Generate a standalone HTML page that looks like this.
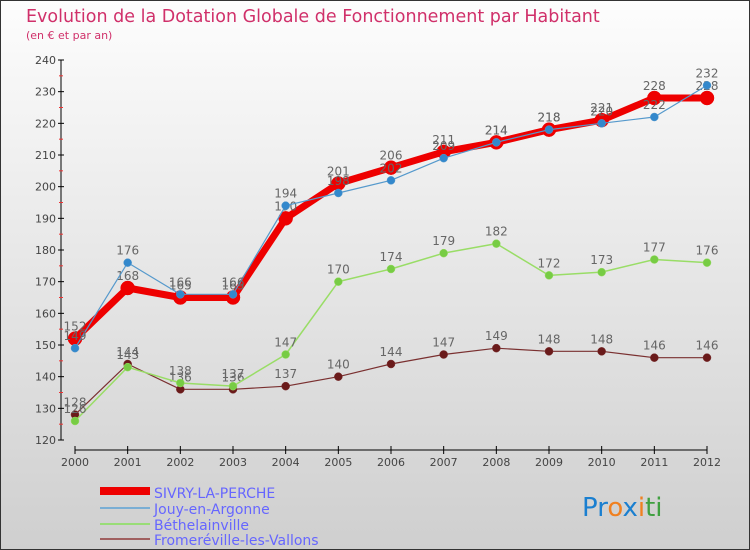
<!DOCTYPE html>
<html><head><meta charset="utf-8"><style>
body{margin:0}
#c{width:750px;height:550px;position:relative;overflow:hidden;font-family:"DejaVu Sans","Liberation Sans",sans-serif}
svg text{font-family:"DejaVu Sans","Liberation Sans",sans-serif}
</style></head><body>
<div id="c">
<svg id="s" width="750" height="550" xmlns="http://www.w3.org/2000/svg">
<defs><linearGradient id="bg" x1="0" y1="0" x2="0" y2="1"><stop offset="0" stop-color="#fdfdfd"/><stop offset="1" stop-color="#cfcfcf"/></linearGradient></defs>
<rect x="0.5" y="0.5" width="749" height="549" fill="url(#bg)" stroke="#333"/>
<text x="26" y="22" font-size="17.5" fill="#d0306a">Evolution de la Dotation Globale de Fonctionnement par Habitant</text>
<text x="26" y="39" font-size="11" fill="#d0306a">(en € et par an)</text>
<g id="axes"></g><g id="series"></g>
<g>
<rect x="100" y="487" width="50" height="8" fill="#e00"/>
<text x="154" y="498" font-size="14" fill="#66f">SIVRY-LA-PERCHE</text>
<line x1="100" y1="508" x2="150" y2="508" stroke="#7aaed4" stroke-width="2"/>
<text x="154" y="514" font-size="14" fill="#66f">Jouy-en-Argonne</text>
<line x1="100" y1="524" x2="150" y2="524" stroke="#99dd77" stroke-width="2"/>
<text x="154" y="530" font-size="14" fill="#66f">Béthelainville</text>
<line x1="100" y1="539" x2="150" y2="539" stroke="#a06060" stroke-width="2"/>
<text x="154" y="545" font-size="14" fill="#66f">Fromeréville-les-Vallons</text>
</g>
<text x="582" y="516" font-size="26"><tspan fill="#1a7fd0">Pr</tspan><tspan fill="#f08020">o</tspan><tspan fill="#1a7fd0">x</tspan><tspan fill="#f08020">i</tspan><tspan fill="#40a040">ti</tspan></text>
</svg></div>
<script>
const years=[2000,2001,2002,2003,2004,2005,2006,2007,2008,2009,2010,2011,2012];
const sivry=[152,168,165,165,190,201,206,211,214,218,221,228,228];
const jouy=[149,176,166,166,194,198,202,209,214,218,220,222,232];
const beth=[126,143,138,137,147,170,174,179,182,172,173,177,176];
const from=[128,144,136,136,137,140,144,147,149,148,148,146,146];
const yTicks=[120,130,140,150,160,170,180,190,200,210,220,230,240];
const NS="http://www.w3.org/2000/svg";
const X=i=>75+i*(707-75)/12, Y=v=>440-(v-120)*(380/120);
function el(t,a,p){const e=document.createElementNS(NS,t);for(const k in a)e.setAttribute(k,a[k]);p.appendChild(e);return e;}
const ax=document.getElementById('axes');
let l=el('line',{x1:61,y1:60,x2:61,y2:440,stroke:'#000'},ax);


yTicks.forEach(v=>{el('line',{x1:58,y1:Y(v),x2:64,y2:Y(v),stroke:'#000'},ax);
 if(v<240)el('line',{x1:59,y1:Y(v+5),x2:63,y2:Y(v+5),stroke:'#e33'},ax);
 const t=el('text',{x:56,y:Y(v)+4,'font-size':11,fill:'#444','text-anchor':'end'},ax);t.textContent=v;
 
 });
l=el('line',{x1:75,y1:450,x2:707,y2:450,stroke:'#000'},ax);


years.forEach((y,i)=>{el('line',{x1:X(i),y1:446,x2:X(i),y2:454,stroke:'#000'},ax);
 const t=el('text',{x:X(i),y:466,'font-size':11,fill:'#444','text-anchor':'middle'},ax);t.textContent=y;
 
 });
const sg=document.getElementById('series');
function draw(d,name,col,w,r,dot){const g=el('g',{},sg);
 
 
 el('polyline',{points:d.map((v,i)=>X(i)+','+Y(v)).join(' '),fill:'none',stroke:col,'stroke-width':w,'stroke-linejoin':'round'},g);
 d.forEach((v,i)=>{const c=el('circle',{cx:X(i),cy:Y(v),r:r,fill:dot,stroke:col,'stroke-width':0.5},g);
  
  
  const t=el('text',{x:X(i),y:Y(v)-8,'font-size':12,fill:'#666','text-anchor':'middle'},g);t.textContent=v;});}
draw(from,'series-fromereville','#7a3030',1.2,4,'#6a1a1a');
draw(beth,'series-bethelainville','#99dd66',1.5,4,'#77cc44');
draw(sivry,'series-sivry','#e00',7,7,'#e00');
draw(jouy,'series-jouy','#5599cc',1.2,4,'#3388cc');
</script>
</body></html>
